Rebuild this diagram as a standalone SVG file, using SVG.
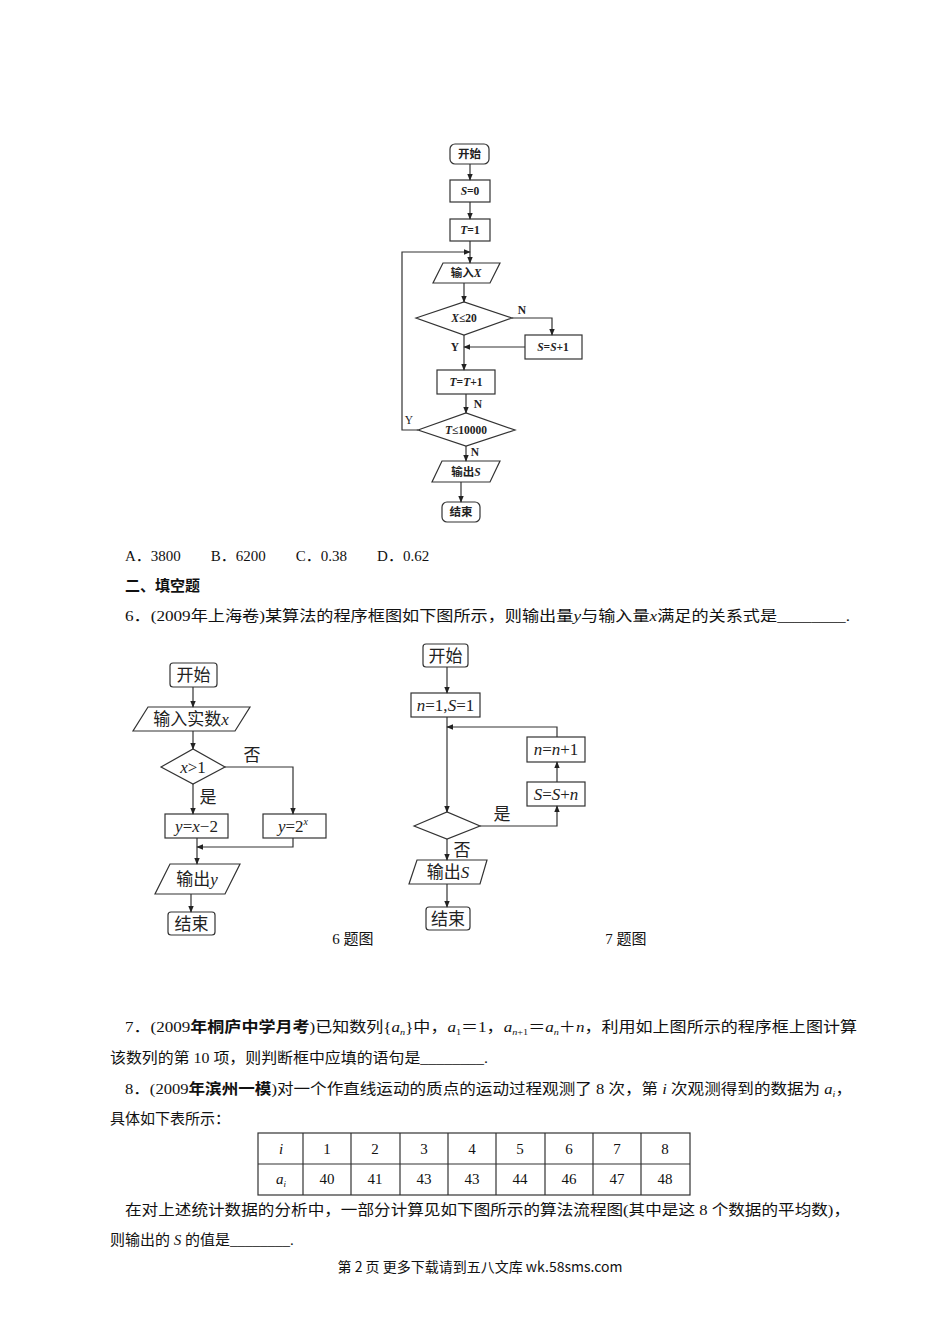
<svg xmlns="http://www.w3.org/2000/svg" width="950" height="1344" viewBox="0 0 950 1344">
<defs>
<marker id="ar" viewBox="0 0 10 10" refX="9" refY="5" markerWidth="7" markerHeight="7" orient="auto" markerUnits="userSpaceOnUse"><path d="M0,1 L10,5 L0,9 Z" fill="#222"/></marker>
</defs>
<style>
.s{fill:#fff;stroke:#333;stroke-width:1.2}
.c{fill:none;stroke:#333;stroke-width:1.2}
.a{fill:none;stroke:#333;stroke-width:1.2;marker-end:url(#ar)}
.t1{font-family:"Liberation Serif","Noto Sans CJK SC",serif;font-size:11.5px;font-weight:bold;text-anchor:middle;fill:#222}
.t2{font-family:"Liberation Serif","Noto Sans CJK SC",serif;font-size:17px;text-anchor:middle;fill:#222}
.b{font-family:"Liberation Serif","Noto Sans CJK SC",serif;font-size:15px;fill:#111}
.i{font-style:italic}
</style>
<rect width="950" height="1344" fill="#fff"/>

<!-- Figure 1 -->
<g id="f1-start"><rect class="s" x="450" y="144" width="39" height="20" rx="5"/><text class="t1" x="469.5" y="158">开始</text></g>
<g id="f1-s0"><rect class="s" x="450" y="180" width="40" height="22"/><text class="t1" x="470" y="195"><tspan class="i">S</tspan>=0</text></g>
<g id="f1-t1"><rect class="s" x="450" y="219" width="40" height="22"/><text class="t1" x="470" y="234"><tspan class="i">T</tspan>=1</text></g>
<g id="f1-in"><polygon class="s" points="443,263 500,263 490,283 433,283"/><text class="t1" x="466" y="277">输入<tspan class="i">X</tspan></text></g>
<g id="f1-d1"><polygon class="s" points="416,318 464,302 512,318 464,335"/><text class="t1" x="464" y="322"><tspan class="i">X</tspan>≤20</text></g>
<g id="f1-ss"><rect class="s" x="525" y="335" width="57" height="24"/><text class="t1" x="553" y="351"><tspan class="i">S</tspan>=<tspan class="i">S</tspan>+1</text></g>
<g id="f1-tt"><rect class="s" x="437" y="370" width="58" height="24"/><text class="t1" x="466" y="386"><tspan class="i">T</tspan>=<tspan class="i">T</tspan>+1</text></g>
<g id="f1-d2"><polygon class="s" points="418,430 466,413 515,430 466,446"/><text class="t1" x="466" y="434"><tspan class="i">T</tspan>≤10000</text></g>
<g id="f1-out"><polygon class="s" points="442,461 500,461 490,482 432,482"/><text class="t1" x="466" y="476">输出<tspan class="i">S</tspan></text></g>
<g id="f1-end"><rect class="s" x="442" y="502" width="38" height="20" rx="5"/><text class="t1" x="461" y="516">结束</text></g>

<g id="f1-conn">
<line class="a" x1="470" y1="164" x2="470" y2="180"/>
<line class="a" x1="470" y1="202" x2="470" y2="219"/>
<line class="a" x1="470" y1="241" x2="470" y2="263"/>
<line class="a" x1="464" y1="283" x2="464" y2="302"/>
<polyline class="a" points="512,318 552,318 552,335"/>
<line class="a" x1="525" y1="347" x2="464" y2="347"/>
<line class="a" x1="464" y1="335" x2="464" y2="370"/>
<line class="a" x1="466" y1="394" x2="466" y2="413"/>
<polyline class="a" points="418,430 402,430 402,252 470,252"/>
<line class="a" x1="466" y1="446" x2="466" y2="461"/>
<line class="a" x1="461" y1="482" x2="461" y2="502"/>
<text class="t1" x="522" y="314">N</text>
<text class="t1" x="455" y="351">Y</text>
<text class="t1" x="478" y="408">N</text>
<text class="t1" x="409" y="424" style="font-weight:normal">Y</text>
<text class="t1" x="475" y="456">N</text>
</g>

<text class="b" x="125" y="561">A．3800　　B．6200　　C．0.38　　D．0.62</text>
<text class="b" x="125" y="591" font-weight="bold">二、填空题</text>
<text class="b" x="125" y="621" textLength="725" lengthAdjust="spacingAndGlyphs">6．(2009年上海卷)某算法的程序框图如下图所示，则输出量<tspan class="i">y</tspan>与输入量<tspan class="i">x</tspan>满足的关系式是________.</text>

<!-- Figure 6 -->
<g id="f6-start"><rect class="s" x="170" y="663" width="47" height="24" rx="3"/><text class="t2" x="193.5" y="681">开始</text></g>
<g id="f6-in"><polygon class="s" points="148,707 250,707 235,731 133,731"/><text class="t2" x="191" y="725">输入实数<tspan class="i">x</tspan></text></g>
<g id="f6-d"><polygon class="s" points="161,767 193,749 225,767 193,784"/><text class="t2" x="193" y="773"><tspan class="i">x</tspan>&gt;1</text></g>
<g id="f6-y1"><rect class="s" x="165" y="814" width="63" height="24"/><text class="t2" x="196.5" y="832"><tspan class="i">y</tspan>=<tspan class="i">x</tspan>−2</text></g>
<g id="f6-y2"><rect class="s" x="263" y="814" width="63" height="24"/><text class="t2" x="293" y="832"><tspan class="i">y</tspan>=2<tspan class="i" font-size="10" dy="-7">x</tspan></text></g>
<g id="f6-out"><polygon class="s" points="170,864 240,864 225,894 155,894"/><text class="t2" x="197" y="885">输出<tspan class="i">y</tspan></text></g>
<g id="f6-end"><rect class="s" x="168" y="912" width="47" height="23" rx="3"/><text class="t2" x="191.5" y="930">结束</text></g>
<g id="f6-conn">
<line class="a" x1="193" y1="687" x2="193" y2="707"/>
<line class="a" x1="193" y1="731" x2="193" y2="749"/>
<polyline class="a" points="225,767 293,767 293,814"/>
<line class="a" x1="193" y1="784" x2="193" y2="814"/>
<polyline class="a" points="293,838 293,847 197,847"/>
<line class="a" x1="197" y1="838" x2="197" y2="864"/>
<line class="a" x1="191" y1="894" x2="191" y2="912"/>
<text class="t2" x="252" y="761">否</text>
<text class="t2" x="208" y="803">是</text>
</g>
<text class="b" x="353" y="944" text-anchor="middle">6 题图</text>

<!-- Figure 7 -->
<g id="f7-start"><rect class="s" x="423" y="644" width="45" height="23" rx="3"/><text class="t2" x="445.5" y="662">开始</text></g>
<g id="f7-init"><rect class="s" x="411" y="693" width="69" height="24"/><text class="t2" x="445.5" y="711"><tspan class="i">n</tspan>=1,<tspan class="i">S</tspan>=1</text></g>
<g id="f7-d"><polygon class="s" points="414,826 447,812 480,826 447,839"/></g>
<g id="f7-ss"><rect class="s" x="527" y="782" width="58" height="24"/><text class="t2" x="556" y="800"><tspan class="i">S</tspan>=<tspan class="i">S</tspan>+<tspan class="i">n</tspan></text></g>
<g id="f7-nn"><rect class="s" x="527" y="737" width="58" height="25"/><text class="t2" x="556" y="755"><tspan class="i">n</tspan>=<tspan class="i">n</tspan>+1</text></g>
<g id="f7-out"><polygon class="s" points="417,860 487,860 480,884 409,884"/><text class="t2" x="448" y="878">输出<tspan class="i">S</tspan></text></g>
<g id="f7-end"><rect class="s" x="426" y="907" width="44" height="23" rx="3"/><text class="t2" x="448" y="925">结束</text></g>
<g id="f7-conn">
<line class="a" x1="447" y1="667" x2="447" y2="693"/>
<line class="a" x1="447" y1="717" x2="447" y2="812"/>
<polyline class="a" points="480,826 557,826 557,806"/>
<line class="a" x1="557" y1="782" x2="557" y2="762"/>
<polyline class="a" points="557,737 557,727 447,727"/>
<line class="a" x1="447" y1="839" x2="447" y2="860"/>
<line class="a" x1="447" y1="884" x2="447" y2="907"/>
<text class="t2" x="502" y="820">是</text>
<text class="t2" x="462" y="856">否</text>
</g>
<text class="b" x="626" y="944" text-anchor="middle">7 题图</text>

<text class="b" x="125" y="1032" textLength="732" lengthAdjust="spacingAndGlyphs">7．(2009<tspan font-weight="bold">年桐庐中学月考</tspan>)已知数列{<tspan class="i">a</tspan><tspan class="i" font-size="9" dy="3">n</tspan><tspan dy="-3">}中，</tspan><tspan class="i">a</tspan><tspan font-size="9" dy="3">1</tspan><tspan dy="-3">＝1，</tspan><tspan class="i">a</tspan><tspan class="i" font-size="9" dy="3">n</tspan><tspan font-size="9">+1</tspan><tspan dy="-3">＝</tspan><tspan class="i">a</tspan><tspan class="i" font-size="9" dy="3">n</tspan><tspan dy="-3">＋</tspan><tspan class="i">n</tspan>，利用如上图所示的程序框上图计算</text>
<text class="b" x="110" y="1063" textLength="378" lengthAdjust="spacingAndGlyphs">该数列的第 10 项，则判断框中应填的语句是________.</text>
<text class="b" x="125" y="1094" textLength="727" lengthAdjust="spacingAndGlyphs">8．(2009<tspan font-weight="bold">年滨州一模</tspan>)对一个作直线运动的质点的运动过程观测了 8 次，第 <tspan class="i">i</tspan> 次观测得到的数据为 <tspan class="i">a</tspan><tspan class="i" font-size="9" dy="3">i</tspan><tspan dy="-3">，</tspan></text>
<text class="b" x="110" y="1124">具体如下表所示：</text>

<g id="table" class="b" text-anchor="middle">
<rect class="c" x="258" y="1133" width="432" height="62"/>
<line class="c" x1="258" y1="1164" x2="690" y2="1164"/>
<line class="c" x1="303" y1="1133" x2="303" y2="1195"/>
<line class="c" x1="351" y1="1133" x2="351" y2="1195"/>
<line class="c" x1="400" y1="1133" x2="400" y2="1195"/>
<line class="c" x1="448" y1="1133" x2="448" y2="1195"/>
<line class="c" x1="496" y1="1133" x2="496" y2="1195"/>
<line class="c" x1="545" y1="1133" x2="545" y2="1195"/>
<line class="c" x1="593" y1="1133" x2="593" y2="1195"/>
<line class="c" x1="641" y1="1133" x2="641" y2="1195"/>
<text x="281" y="1154" class="i">i</text>
<text x="327" y="1154">1</text><text x="375" y="1154">2</text><text x="424" y="1154">3</text><text x="472" y="1154">4</text><text x="520" y="1154">5</text><text x="569" y="1154">6</text><text x="617" y="1154">7</text><text x="665" y="1154">8</text>
<text x="281" y="1184"><tspan class="i">a</tspan><tspan class="i" font-size="9" dy="3">i</tspan></text>
<text x="327" y="1184">40</text><text x="375" y="1184">41</text><text x="424" y="1184">43</text><text x="472" y="1184">43</text><text x="520" y="1184">44</text><text x="569" y="1184">46</text><text x="617" y="1184">47</text><text x="665" y="1184">48</text>
</g>

<text class="b" x="125" y="1215" textLength="725" lengthAdjust="spacingAndGlyphs">在对上述统计数据的分析中，一部分计算见如下图所示的算法流程图(其中是这 8 个数据的平均数)，</text>
<text class="b" x="110" y="1245">则输出的 <tspan class="i">S</tspan> 的值是________.</text>
<text x="480" y="1272" text-anchor="middle" font-family="'Noto Sans CJK SC','Noto Sans',sans-serif" font-size="14" fill="#111">第 2 页 更多下载请到五八文库 wk.58sms.com</text>
</svg>
